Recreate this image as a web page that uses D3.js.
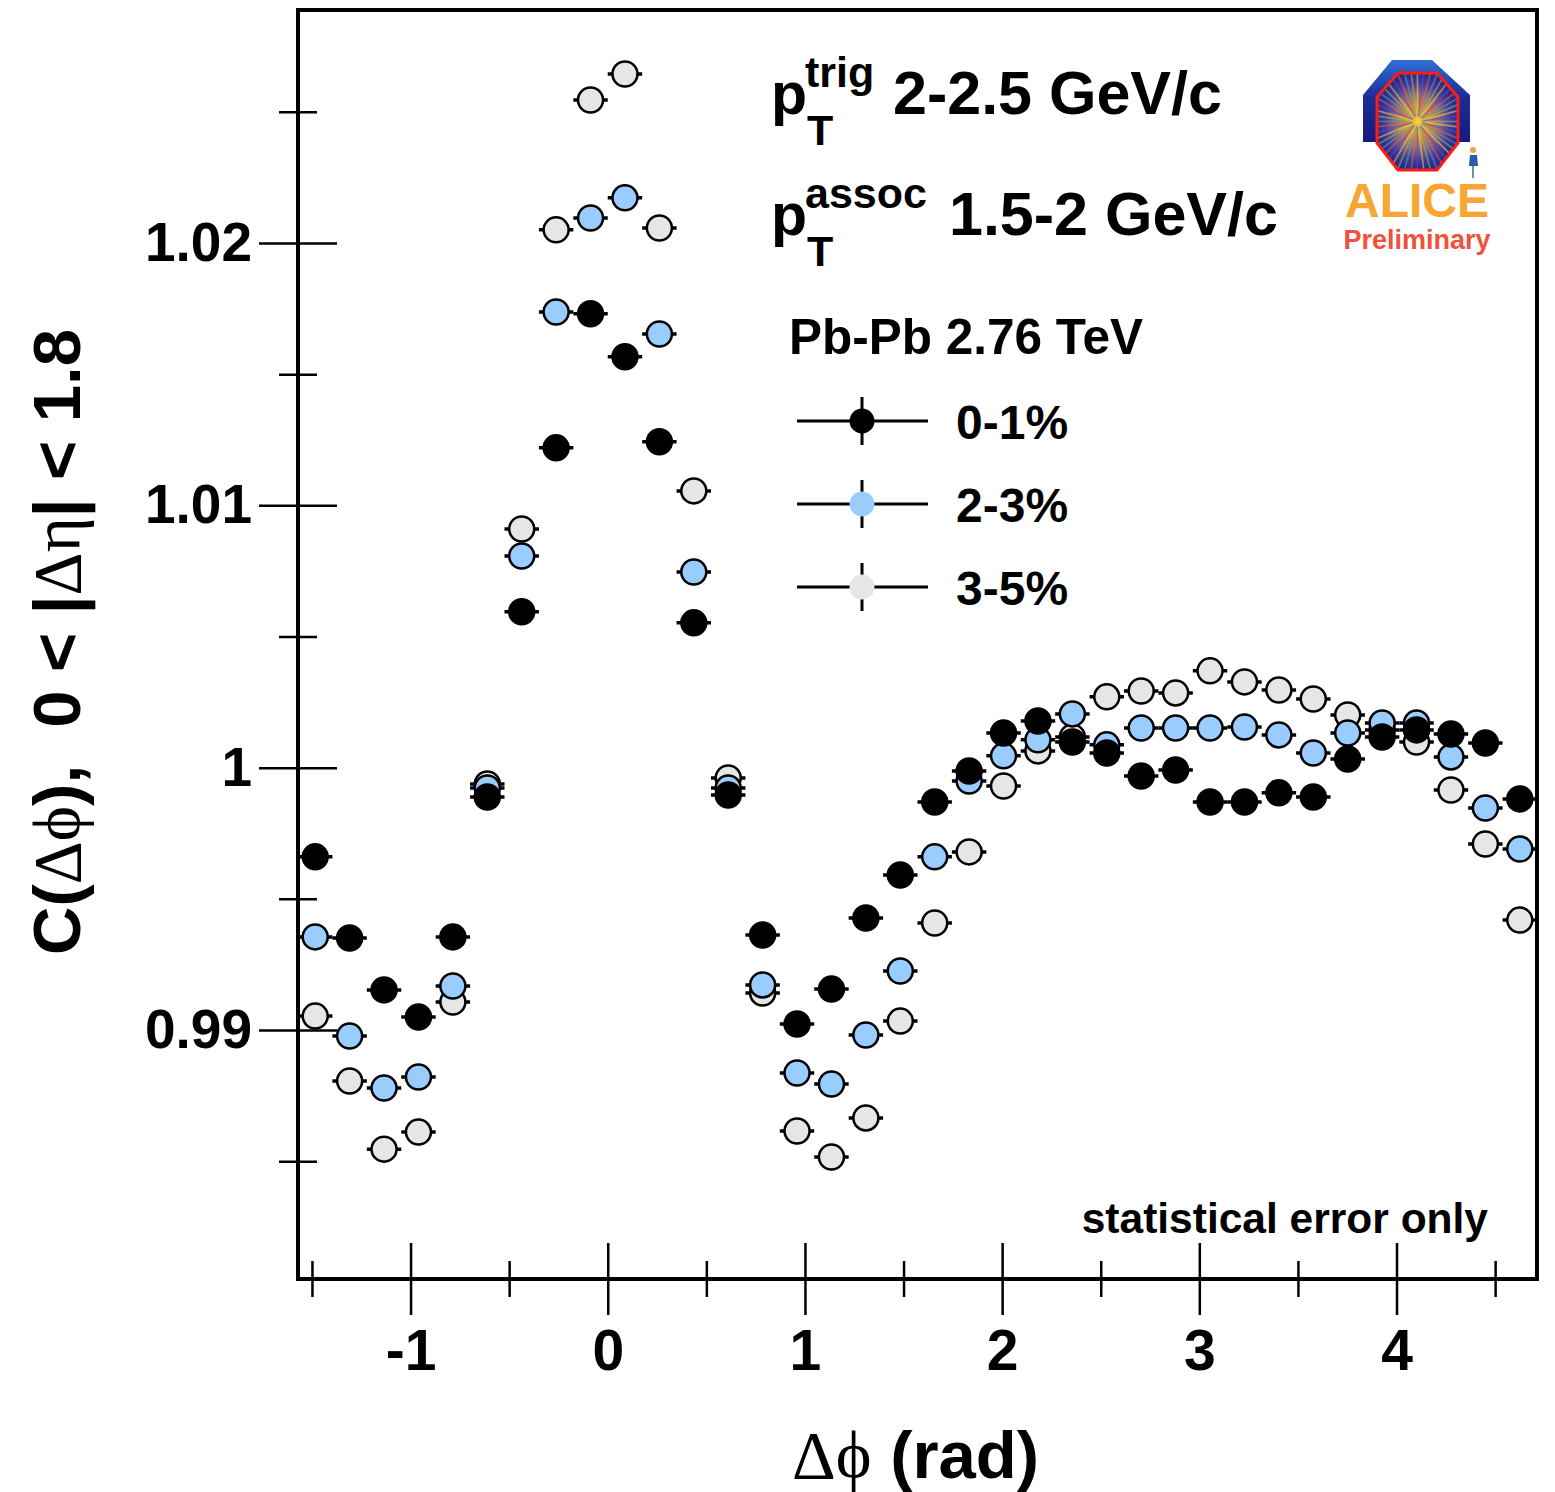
<!DOCTYPE html>
<html>
<head>
<meta charset="utf-8">
<script src="https://cdn.jsdelivr.net/npm/d3@7"></script>
<style>
  body { margin: 0; background: #fff; }
  svg { display: block; }
  text { font-family: "Liberation Sans", Arial, Helvetica, sans-serif; font-weight: bold; fill: #000; }
  .greek { font-family: "Liberation Serif", "DejaVu Serif", serif; font-weight: normal; }
</style>
</head>
<body>
<div id="chart"></div>
<script>
// C(dphi) for Pb-Pb 2.76 TeV, ALICE preliminary

const width = 1555;
const height = 1492;

// 36 bins in dphi from -pi/2 to 3pi/2
const nBins = 36;
const binW = 2 * Math.PI / nBins;
const dphi = d3.range(nBins).map(i => -Math.PI / 2 + (i + 0.5) * binW);

// values
const cent01 = [0.99660, 0.99351, 0.99153, 0.99050, 0.99355, 0.99888, 1.00594, 1.01219, 1.01730, 1.01566,
  1.01242, 1.00552, 0.99896, 0.99362, 0.99023, 0.99156, 0.99427, 0.99591, 0.99869, 0.99987,
  1.00132, 1.00178, 1.00098, 1.00056, 0.99968, 0.99991, 0.99869, 0.99869, 0.99904, 0.99888,
  1.00033, 1.00117, 1.00144, 1.00128, 1.00094, 0.99881];
const cent23 = [0.99355, 0.98977, 0.98779, 0.98821, 0.99168, 0.99923, 1.00807, 1.01737, 1.02095, 1.02172,
  1.01653, 1.00746, 0.99923, 0.99172, 0.98836, 0.98794, 0.98981, 0.99225, 0.99660, 0.99949,
  1.00045, 1.00106, 1.00205, 1.00087, 1.00151, 1.00151, 1.00151, 1.00155, 1.00125, 1.00056,
  1.00132, 1.00170, 1.00170, 1.00041, 0.99846, 0.99690];
const cent35 = [0.99053, 0.98806, 0.98546, 0.98611, 0.99107, 0.99938, 1.00910, 1.02050, 1.02545, 1.02644,
  1.02057, 1.01055, 0.99961, 0.99141, 0.98615, 0.98516, 0.98665, 0.99034, 0.99408, 0.99679,
  0.99930, 1.00064, 1.00117, 1.00270, 1.00292, 1.00285, 1.00369, 1.00327, 1.00296, 1.00262,
  1.00201, 1.00144, 1.00098, 0.99915, 0.99709, 0.99419];

const centLabels = ["0-1%", "2-3%", "3-5%"];
const centFills = ["#000000", "#99ccff", "#e6e6e6"];
const centValues = [cent01, cent23, cent35];

const xMajor = [-1, 0, 1, 2, 3, 4];
const xMinor = [-1.5, -0.5, 0.5, 1.5, 2.5, 3.5, 4.5];
const xTickLabels = ["-1", "0", "1", "2", "3", "4"];
const yMajor = [0.99, 1.00, 1.01, 1.02];
const yMinor = [0.985, 0.995, 1.005, 1.015, 1.025];
const yTickLabels = ["0.99", "1", "1.01", "1.02"];

const frame = { x0: 298, x1: 1537, y0: 10, y1: 1279 };

const svg = d3.select("#chart").append("svg")
  .attr("width", width)
  .attr("height", height);

svg.append("rect").attr("width", width).attr("height", height).attr("fill", "#fff");

const x = d3.scaleLinear().domain([-Math.PI / 2, 3 * Math.PI / 2]).range([frame.x0, frame.x1]);
const y = d3.scaleLinear().domain([0.98051, 1.02888]).range([frame.y1, frame.y0]);

// --- axes (ticks cross the frame line, ROOT "+-" style)
const xAxisMaj = svg.append("g").attr("transform", `translate(0,${frame.y1})`)
  .call(d3.axisBottom(x).tickValues(xMajor).tickSize(36).tickPadding(15)
    .tickFormat((d, i) => xTickLabels[i]));
xAxisMaj.selectAll(".tick line").attr("y1", -36).attr("stroke-width", 2.5);
xAxisMaj.selectAll(".tick text").attr("font-size", 57);

const xAxisMin = svg.append("g").attr("transform", `translate(0,${frame.y1})`)
  .call(d3.axisBottom(x).tickValues(xMinor).tickSize(18).tickFormat(""));
xAxisMin.selectAll(".tick line").attr("y1", -18).attr("stroke-width", 2.5);

const yAxisMaj = svg.append("g").attr("transform", `translate(${frame.x0},0)`)
  .call(d3.axisLeft(y).tickValues(yMajor).tickSize(39).tickPadding(7)
    .tickFormat((d, i) => yTickLabels[i]));
yAxisMaj.selectAll(".tick line").attr("x1", 39).attr("stroke-width", 2.5);
yAxisMaj.selectAll(".tick text").attr("font-size", 55);

const yAxisMin = svg.append("g").attr("transform", `translate(${frame.x0},0)`)
  .call(d3.axisLeft(y).tickValues(yMinor).tickSize(19).tickFormat(""));
yAxisMin.selectAll(".tick line").attr("x1", 19).attr("stroke-width", 2.5);

svg.selectAll(".domain").remove();
svg.selectAll(".tick text").attr("fill", "#000").attr("font-family", null);

// frame
svg.append("rect")
  .attr("x", frame.x0).attr("y", frame.y0)
  .attr("width", frame.x1 - frame.x0).attr("height", frame.y1 - frame.y0)
  .attr("fill", "none").attr("stroke", "#000").attr("stroke-width", 4);

// --- data: draw 3-5% first, 0-1% last (on top)
const plot = svg.append("g").attr("class", "points");
[2, 1, 0].forEach(s => {
  const pts = dphi.map((d, i) => ({ x: d, v: centValues[s][i] }));
  const g = plot.append("g");
  g.selectAll("line").data(pts).join("line")
    .attr("x1", d => x(d.x - binW / 2)).attr("x2", d => x(d.x + binW / 2))
    .attr("y1", d => y(d.v)).attr("y2", d => y(d.v))
    .attr("stroke", "#000").attr("stroke-width", 3.5);
  g.selectAll("circle").data(pts).join("circle")
    .attr("cx", d => x(d.x)).attr("cy", d => y(d.v)).attr("r", 12.5)
    .attr("fill", centFills[s]).attr("stroke", "#000").attr("stroke-width", 2.5);
});

// --- axis titles
const yTitle = svg.append("text")
  .attr("transform", "translate(80,642) rotate(-90)")
  .attr("text-anchor", "middle").attr("font-size", 67);
yTitle.append("tspan").text("C(");
yTitle.append("tspan").attr("class", "greek").text("Δϕ");
yTitle.append("tspan").text("),\u00a0\u00a00 < |");
yTitle.append("tspan").attr("class", "greek").text("Δη");
yTitle.append("tspan").text("| < 1.8");

const xTitle = svg.append("text").attr("x", 792).attr("y", 1478).attr("font-size", 67);
xTitle.append("tspan").attr("class", "greek").attr("font-size", 68).text("Δϕ");
xTitle.append("tspan").text(" (rad)");

// --- legend / labels
function ptLine(yBase, sup, rest) {
  svg.append("text").attr("x", 771).attr("y", yBase).attr("font-size", 59).text("p");
  svg.append("text").attr("x", 805).attr("y", yBase - 27).attr("font-size", 43).text(sup);
  svg.append("text").attr("x", 807).attr("y", yBase + 31).attr("font-size", 43).text("T");
  svg.append("text").attr("x", sup === "trig" ? 893 : 949).attr("y", yBase).attr("font-size", 61).text(rest);
}
ptLine(114, "trig", "2-2.5 GeV/c");
ptLine(235, "assoc", "1.5-2 GeV/c");

svg.append("text").attr("x", 789).attr("y", 354).attr("font-size", 49.5).text("Pb-Pb 2.76 TeV");

const legend = svg.append("g").attr("class", "legend");
const legRows = centLabels.map((lab, i) => ({ lab, fill: centFills[i], cy: 421 + i * 83 }));
legRows.forEach(r => {
  legend.append("line").attr("x1", 797).attr("x2", 928).attr("y1", r.cy).attr("y2", r.cy)
    .attr("stroke", "#000").attr("stroke-width", 3);
  legend.append("line").attr("x1", 862).attr("x2", 862).attr("y1", r.cy - 24).attr("y2", r.cy + 24)
    .attr("stroke", "#000").attr("stroke-width", 3);
  legend.append("circle").attr("cx", 862).attr("cy", r.cy).attr("r", 12.5).attr("fill", r.fill);
  legend.append("text").attr("x", 956).attr("y", r.cy + 18).attr("font-size", 48).text(r.lab);
});

svg.append("text").attr("x", 1488).attr("y", 1233).attr("text-anchor", "end")
  .attr("font-size", 42.5).text("statistical error only");

// --- ALICE Preliminary logo
const defs = svg.append("defs");
const archGrad = defs.append("linearGradient").attr("id", "archGrad")
  .attr("x1", 0).attr("y1", 0).attr("x2", 0).attr("y2", 1);
archGrad.append("stop").attr("offset", "0%").attr("stop-color", "#2f6fd6");
archGrad.append("stop").attr("offset", "45%").attr("stop-color", "#1c2d96");
archGrad.append("stop").attr("offset", "100%").attr("stop-color", "#161a80");
const coreGrad = defs.append("radialGradient").attr("id", "coreGrad");
coreGrad.append("stop").attr("offset", "0%").attr("stop-color", "#ffd040");
coreGrad.append("stop").attr("offset", "25%").attr("stop-color", "#ff9030");
coreGrad.append("stop").attr("offset", "55%").attr("stop-color", "#9a6a7a");
coreGrad.append("stop").attr("offset", "80%").attr("stop-color", "#4a3a9a");
coreGrad.append("stop").attr("offset", "100%").attr("stop-color", "#2c2c88");

const logo = svg.append("g").attr("class", "alice-logo");
logo.append("polygon")
  .attr("points", "1363,142 1363,95 1392,60 1432,60 1470,95 1470,142")
  .attr("fill", "url(#archGrad)");
const octPts = [[1398, 73], [1437, 73], [1458, 97], [1458, 143], [1437, 170], [1398, 170], [1377, 143], [1377, 97]];
defs.append("clipPath").attr("id", "octClip").append("polygon").attr("points", octPts.join(" "));
logo.append("polygon").attr("points", octPts.join(" ")).attr("fill", "url(#coreGrad)");
const spokes = logo.append("g").attr("clip-path", "url(#octClip)");
const spokeCols = ["#8ad04a", "#f0e040", "#3a5ad0", "#e07030", "#40b0c0"];
d3.range(48).forEach(k => {
  const a = k * Math.PI / 24;
  spokes.append("line")
    .attr("x1", 1417.5 + 5 * Math.cos(a)).attr("y1", 121.5 + 5 * Math.sin(a))
    .attr("x2", 1417.5 + 55 * Math.cos(a)).attr("y2", 121.5 + 55 * Math.sin(a))
    .attr("stroke", spokeCols[k % spokeCols.length]).attr("stroke-width", 1.6).attr("opacity", 0.55);
});
logo.append("polygon").attr("points", octPts.join(" "))
  .attr("fill", "none").attr("stroke", "#ff1a1a").attr("stroke-width", 3);
// little figure
logo.append("circle").attr("cx", 1473).attr("cy", 150).attr("r", 3).attr("fill", "#f0a040");
logo.append("path").attr("d", "M1470,155 L1477,155 L1478,166 L1469,166 Z").attr("fill", "#2a5aa8");
logo.append("line").attr("x1", 1473).attr("x2", 1473).attr("y1", 166).attr("y2", 178)
  .attr("stroke", "#7a8aa0").attr("stroke-width", 2);

logo.append("text").attr("x", 1417).attr("y", 217).attr("text-anchor", "middle")
  .attr("font-size", 48).style("fill", "#f7a533").text("ALICE");
logo.append("text").attr("x", 1417).attr("y", 249).attr("text-anchor", "middle")
  .attr("font-size", 27).style("fill", "#f2503c").text("Preliminary");
</script>
</body>
</html>
